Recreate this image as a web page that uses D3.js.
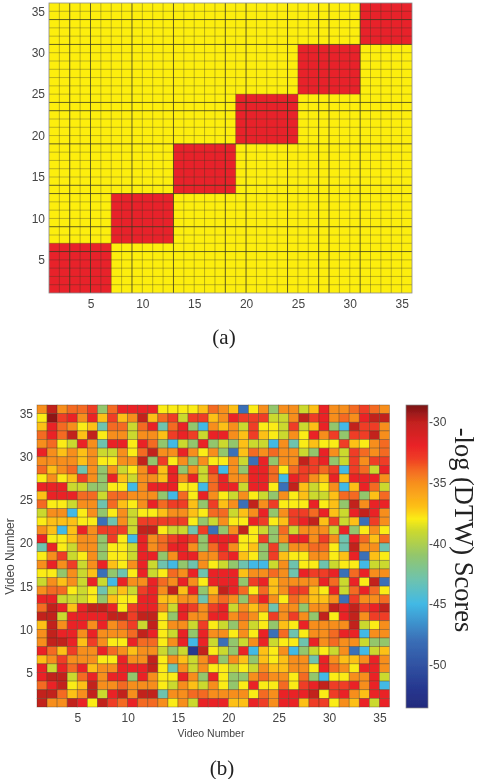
<!DOCTYPE html>
<html>
<head>
<meta charset="utf-8">
<script src="https://cdn.jsdelivr.net/npm/d3@7"></script>
<style>
  html, body { margin: 0; padding: 0; background: #fff; }
  svg { display: block; }
</style>
</head>
<body>
<div id="chart"></div>
<script>
// axis labels
var videoTicks = [5, 10, 15, 20, 25, 30, 35];
var scoreTicks = [-30, -35, -40, -45, -50];

// panel (a): first and last video of each class, drawn red where both videos share a class
var classStarts = [1, 7, 13, 19, 25, 31];
var classEnds = [7, 13, 19, 25, 31, 36];
var darkGridX = [3, 5, 9, 13, 18, 20, 24, 27, 28, 31];
var darkGridY = [6, 9, 13, 14, 19, 23, 24, 31, 34];

// panel (b): -log(DTW) score per cell, top row is video 35
var scoreRows = [
  [-35,-30,-35,-34,-34,-33,-41,-34,-32,-32,-32,-32,-38,-38,-38,-38,-37,-34,-35,-37,-48,-38,-35,-41,-35,-35,-39,-37,-32,-35,-35,-34,-33,-34,-35],
  [-38,-29,-33,-32,-35,-32,-37,-33,-37,-35,-30,-37,-34,-33,-39,-33,-33,-37,-35,-32,-33,-33,-33,-39,-39,-35,-30,-33,-32,-35,-34,-35,-32,-30,-30],
  [-37,-32,-34,-35,-38,-37,-43,-34,-34,-39,-34,-32,-43,-34,-32,-41,-45,-35,-37,-35,-39,-33,-38,-38,-39,-33,-39,-37,-32,-41,-45,-30,-33,-33,-35],
  [-34,-32,-34,-30,-37,-30,-38,-35,-35,-39,-35,-35,-37,-33,-32,-33,-39,-32,-32,-35,-37,-33,-37,-38,-39,-35,-38,-32,-35,-33,-41,-33,-33,-30,-35],
  [-35,-34,-38,-39,-32,-35,-43,-32,-32,-38,-32,-34,-41,-45,-39,-41,-32,-41,-39,-41,-37,-39,-39,-45,-35,-43,-38,-37,-38,-38,-33,-37,-38,-35,-34],
  [-32,-35,-37,-35,-37,-35,-39,-39,-35,-38,-34,-30,-35,-35,-32,-35,-38,-35,-41,-48,-37,-34,-35,-34,-35,-35,-39,-41,-32,-35,-39,-33,-34,-35,-34],
  [-35,-35,-35,-35,-37,-35,-38,-38,-35,-35,-30,-41,-33,-38,-35,-41,-35,-38,-38,-35,-39,-48,-32,-41,-35,-35,-30,-33,-32,-41,-39,-33,-35,-33,-33],
  [-34,-37,-35,-34,-43,-35,-41,-35,-39,-38,-35,-32,-37,-32,-41,-35,-39,-33,-45,-35,-41,-32,-32,-34,-38,-34,-33,-33,-34,-33,-45,-33,-34,-39,-32],
  [-38,-35,-38,-37,-33,-35,-41,-32,-37,-39,-35,-35,-37,-32,-35,-32,-39,-34,-32,-35,-35,-32,-32,-34,-45,-32,-33,-35,-37,-32,-37,-32,-32,-32,-35],
  [-32,-32,-32,-39,-39,-41,-41,-38,-38,-45,-35,-32,-32,-32,-38,-38,-45,-34,-32,-32,-39,-32,-32,-38,-48,-30,-37,-39,-38,-35,-45,-37,-32,-34,-39],
  [-37,-32,-32,-32,-34,-34,-39,-34,-34,-35,-35,-35,-41,-45,-34,-38,-32,-35,-38,-39,-35,-38,-39,-41,-35,-38,-37,-39,-39,-37,-34,-34,-41,-37,-34],
  [-34,-38,-38,-39,-35,-35,-43,-34,-37,-38,-35,-32,-34,-33,-33,-37,-41,-33,-37,-35,-48,-30,-35,-33,-38,-38,-38,-32,-38,-37,-41,-30,-35,-32,-32],
  [-39,-35,-35,-45,-38,-35,-41,-38,-35,-39,-38,-38,-37,-35,-35,-37,-38,-34,-34,-39,-37,-35,-32,-41,-35,-33,-33,-34,-32,-37,-39,-32,-30,-32,-35],
  [-38,-37,-37,-37,-38,-38,-48,-43,-35,-39,-33,-33,-33,-33,-33,-38,-41,-39,-35,-38,-38,-32,-33,-38,-37,-33,-32,-30,-37,-33,-39,-37,-48,-33,-35],
  [-35,-37,-45,-37,-32,-35,-33,-33,-33,-39,-30,-30,-38,-39,-39,-43,-33,-48,-41,-35,-30,-38,-39,-41,-34,-39,-35,-35,-35,-39,-32,-41,-38,-35,-38],
  [-32,-38,-38,-37,-35,-35,-41,-33,-38,-45,-32,-35,-34,-33,-32,-33,-41,-32,-32,-32,-38,-38,-33,-41,-35,-32,-32,-35,-33,-35,-43,-32,-34,-37,-34],
  [-43,-32,-38,-39,-35,-35,-41,-38,-38,-39,-32,-35,-34,-32,-32,-35,-41,-34,-32,-35,-38,-37,-41,-33,-41,-35,-35,-34,-34,-38,-43,-30,-35,-35,-43],
  [-38,-35,-33,-39,-38,-35,-41,-38,-38,-39,-32,-32,-41,-35,-32,-32,-35,-35,-33,-32,-37,-38,-41,-33,-37,-38,-38,-35,-35,-38,-37,-32,-48,-37,-38],
  [-35,-32,-35,-33,-39,-35,-32,-37,-38,-35,-32,-39,-43,-45,-41,-43,-35,-38,-39,-41,-43,-45,-45,-39,-35,-43,-38,-38,-43,-39,-38,-38,-45,-39,-39],
  [-38,-38,-41,-35,-39,-37,-48,-41,-43,-38,-32,-39,-38,-34,-35,-32,-43,-32,-32,-32,-37,-35,-35,-34,-35,-43,-32,-33,-33,-32,-48,-34,-32,-35,-35],
  [-39,-35,-37,-35,-39,-32,-39,-45,-32,-35,-35,-32,-34,-35,-32,-35,-38,-32,-32,-32,-41,-33,-32,-37,-35,-35,-35,-35,-32,-34,-39,-32,-38,-30,-48],
  [-35,-34,-34,-38,-39,-38,-43,-39,-37,-39,-33,-32,-35,-30,-37,-32,-41,-37,-30,-32,-34,-38,-34,-37,-35,-33,-33,-37,-38,-32,-39,-34,-32,-34,-38],
  [-32,-32,-39,-39,-39,-38,-41,-37,-38,-38,-32,-32,-37,-37,-35,-35,-43,-35,-34,-35,-41,-34,-32,-35,-38,-34,-35,-37,-37,-35,-48,-33,-35,-35,-34],
  [-34,-30,-32,-37,-32,-30,-30,-32,-38,-33,-32,-32,-35,-39,-32,-33,-35,-33,-32,-39,-35,-37,-35,-43,-35,-35,-41,-35,-35,-30,-32,-30,-33,-32,-30],
  [-30,-30,-39,-32,-32,-32,-32,-30,-30,-33,-30,-30,-38,-41,-32,-35,-35,-32,-32,-35,-34,-35,-38,-33,-35,-33,-35,-41,-30,-38,-32,-30,-35,-33,-33],
  [-37,-30,-35,-32,-32,-35,-32,-35,-34,-33,-39,-30,-38,-35,-35,-39,-33,-38,-39,-41,-35,-39,-38,-41,-37,-38,-32,-35,-35,-35,-35,-30,-39,-38,-35],
  [-35,-30,-32,-32,-35,-32,-35,-35,-35,-34,-30,-32,-38,-39,-32,-41,-32,-35,-35,-38,-35,-38,-32,-48,-34,-43,-38,-35,-35,-34,-32,-32,-45,-35,-35],
  [-35,-30,-30,-32,-37,-33,-35,-38,-38,-32,-34,-34,-38,-35,-32,-45,-32,-39,-48,-41,-39,-35,-32,-39,-38,-38,-43,-32,-35,-34,-35,-35,-39,-41,-41],
  [-32,-34,-37,-33,-35,-35,-32,-34,-35,-37,-35,-35,-39,-41,-39,-52,-30,-38,-39,-41,-32,-45,-37,-38,-35,-45,-41,-39,-38,-39,-35,-48,-45,-39,-37],
  [-37,-35,-33,-35,-35,-35,-38,-38,-32,-35,-35,-30,-38,-35,-37,-39,-35,-33,-41,-35,-37,-41,-37,-38,-37,-35,-35,-43,-32,-35,-37,-37,-35,-32,-35],
  [-32,-39,-32,-34,-32,-37,-35,-35,-32,-32,-32,-30,-38,-43,-35,-39,-35,-38,-38,-39,-38,-39,-35,-37,-37,-35,-35,-38,-32,-34,-35,-38,-32,-32,-35],
  [-32,-30,-30,-39,-34,-32,-35,-32,-32,-41,-32,-35,-38,-38,-32,-35,-41,-32,-38,-41,-41,-35,-34,-35,-35,-38,-34,-41,-45,-38,-38,-35,-35,-32,-39],
  [-34,-32,-30,-38,-37,-30,-35,-35,-34,-35,-35,-35,-38,-39,-35,-37,-39,-35,-38,-41,-38,-32,-38,-38,-34,-38,-33,-32,-30,-33,-33,-32,-35,-32,-45],
  [-30,-30,-34,-37,-35,-30,-39,-32,-30,-35,-30,-30,-43,-35,-35,-34,-34,-35,-35,-35,-35,-38,-34,-35,-32,-32,-32,-30,-38,-33,-32,-35,-37,-32,-32],
  [-30,-35,-35,-30,-32,-38,-30,-33,-34,-32,-34,-34,-35,-38,-35,-39,-32,-32,-32,-37,-37,-32,-33,-35,-32,-32,-37,-33,-33,-38,-35,-37,-32,-39,-32]
];

// colour ramp of the colorbar
var rampScores = [-28.6, -30, -32, -33, -34, -35, -36, -37, -38, -39, -41, -43, -45, -48, -52, -53.6];
var rampColors = ["#7a1416", "#c2201f", "#ea2428", "#ef3c25", "#f46a21", "#f78e1f", "#faa71b", "#fdc016",
  "#fbec14", "#cbd92f", "#93c66c", "#6ec3ae", "#42b9e5", "#3a6fb7", "#27378f", "#232a7d"];

var width = 480, height = 779;

var svg = d3.select("#chart").append("svg")
  .attr("width", width)
  .attr("height", height);

var defs = svg.append("defs");
defs.append("filter").attr("id", "soft")
  .append("feGaussianBlur").attr("stdDeviation", 0.6);

var color = d3.scaleLinear().domain(rampScores).range(rampColors);

var g = svg.append("g").attr("filter", "url(#soft)");

var tickFont = "Liberation Sans, Arial, sans-serif";
var serifFont = "Liberation Serif, Times New Roman, serif";

function drawAxes(panel, x, y) {
  var bottom = panel.append("g")
    .attr("transform", "translate(0," + y.range()[0] + ")")
    .call(d3.axisBottom(x).tickValues(videoTicks).tickSize(0).tickPadding(6));
  var left = panel.append("g")
    .attr("transform", "translate(" + x.range()[0] + ",0)")
    .call(d3.axisLeft(y).tickValues(videoTicks).tickSize(0).tickPadding(4));
  [bottom, left].forEach(function(axis) {
    axis.select(".domain").remove();
    axis.selectAll("text")
      .attr("fill", "#444")
      .style("font-family", tickFont)
      .style("font-size", "12px");
  });
}

// panel (a)
var xa = d3.scaleLinear().domain([1, 36]).range([49, 412]);
var ya = d3.scaleLinear().domain([1, 36]).range([293, 3]);
var panelA = g.append("g");

panelA.append("rect")
  .attr("x", xa(1)).attr("y", ya(36))
  .attr("width", xa(36) - xa(1)).attr("height", ya(1) - ya(36))
  .attr("fill", "#fdee10");

panelA.selectAll(".block")
  .data(classStarts)
  .enter()
  .append("rect")
  .attr("class", "block")
  .attr("x", function(d) { return xa(d); })
  .attr("y", function(d, i) { return ya(classEnds[i]); })
  .attr("width", function(d, i) { return xa(classEnds[i]) - xa(d); })
  .attr("height", function(d, i) { return ya(d) - ya(classEnds[i]); })
  .attr("fill", "#e8222c");

var gridValues = d3.range(2, 36);

panelA.selectAll(".vgrid")
  .data(gridValues)
  .enter()
  .append("line")
  .attr("class", "vgrid")
  .attr("x1", function(d) { return xa(d); })
  .attr("x2", function(d) { return xa(d); })
  .attr("y1", ya(36))
  .attr("y2", ya(1))
  .attr("stroke", "#3a3a20")
  .attr("stroke-width", 1)
  .attr("stroke-opacity", function(d) { return darkGridX.indexOf(d) >= 0 ? 0.8 : 0.35; });

panelA.selectAll(".hgrid")
  .data(gridValues)
  .enter()
  .append("line")
  .attr("class", "hgrid")
  .attr("y1", function(d) { return ya(d); })
  .attr("y2", function(d) { return ya(d); })
  .attr("x1", xa(1))
  .attr("x2", xa(36))
  .attr("stroke", "#3a3a20")
  .attr("stroke-width", 1)
  .attr("stroke-opacity", function(d) { return darkGridY.indexOf(d) >= 0 ? 0.8 : 0.35; });

panelA.append("rect")
  .attr("x", xa(1)).attr("y", ya(36))
  .attr("width", xa(36) - xa(1)).attr("height", ya(1) - ya(36))
  .attr("fill", "none")
  .attr("stroke", "#8a8a8a")
  .attr("stroke-width", 0.8);

drawAxes(panelA, xa, ya);

// panel (b)
var xb = d3.scaleLinear().domain([1, 36]).range([37, 389.5]);
var yb = d3.scaleLinear().domain([1, 36]).range([707, 405]);
var panelB = g.append("g");

var rows = panelB.selectAll(".row")
  .data(scoreRows)
  .enter()
  .append("g")
  .attr("class", "row");

rows.selectAll("rect")
  .data(function(row, k) {
    return row.map(function(score, i) {
      return { video: i + 1, other: 35 - k, score: score };
    });
  })
  .enter()
  .append("rect")
  .attr("x", function(d) { return xb(d.video); })
  .attr("y", function(d) { return yb(d.other + 1); })
  .attr("width", xb(2) - xb(1))
  .attr("height", yb(1) - yb(2))
  .attr("fill", function(d) { return color(d.score); })
  .attr("stroke", "#4a3a20")
  .attr("stroke-opacity", 0.5)
  .attr("stroke-width", 0.7);

drawAxes(panelB, xb, yb);

panelB.append("text")
  .attr("x", 211).attr("y", 737)
  .attr("text-anchor", "middle")
  .attr("fill", "#444")
  .style("font-family", tickFont)
  .style("font-size", "10.5px")
  .text("Video Number");

panelB.append("text")
  .attr("transform", "translate(14,556.5) rotate(-90)")
  .attr("text-anchor", "middle")
  .attr("fill", "#444")
  .style("font-family", tickFont)
  .style("font-size", "12px")
  .text("Video Number");

// colorbar
var barScale = d3.scaleLinear().domain([-53.6, -28.6]).range([708, 405]);
var gradient = defs.append("linearGradient")
  .attr("id", "ramp")
  .attr("x1", 0).attr("x2", 0).attr("y1", 1).attr("y2", 0);

gradient.selectAll("stop")
  .data(rampScores.slice().reverse())
  .enter()
  .append("stop")
  .attr("offset", function(d) { return (d + 53.6) / 25; })
  .attr("stop-color", function(d) { return color(d); });

var bar = g.append("g");
bar.append("rect")
  .attr("x", 406).attr("y", barScale(-28.6))
  .attr("width", 22).attr("height", barScale(-53.6) - barScale(-28.6))
  .attr("fill", "url(#ramp)")
  .attr("stroke", "#8a8a8a")
  .attr("stroke-width", 0.7);

var barAxis = bar.append("g")
  .attr("transform", "translate(428,0)")
  .call(d3.axisRight(barScale).tickValues(scoreTicks).tickSize(0).tickPadding(1)
    .tickFormat(function(d) { return "-" + Math.abs(d); }));
barAxis.select(".domain").remove();
barAxis.selectAll("text")
  .attr("fill", "#444")
  .style("font-family", tickFont)
  .style("font-size", "12px");

g.append("text")
  .attr("transform", "translate(455,530) rotate(90)")
  .attr("text-anchor", "middle")
  .attr("fill", "#222")
  .style("font-family", serifFont)
  .style("font-size", "26.5px")
  .text("-log (DTW) Scores");

g.append("text")
  .attr("x", 224).attr("y", 344)
  .attr("text-anchor", "middle")
  .attr("fill", "#222")
  .style("font-family", serifFont)
  .style("font-size", "21px")
  .text("(a)");

g.append("text")
  .attr("x", 222).attr("y", 775)
  .attr("text-anchor", "middle")
  .attr("fill", "#222")
  .style("font-family", serifFont)
  .style("font-size", "21px")
  .text("(b)");
</script>
</body>
</html>
